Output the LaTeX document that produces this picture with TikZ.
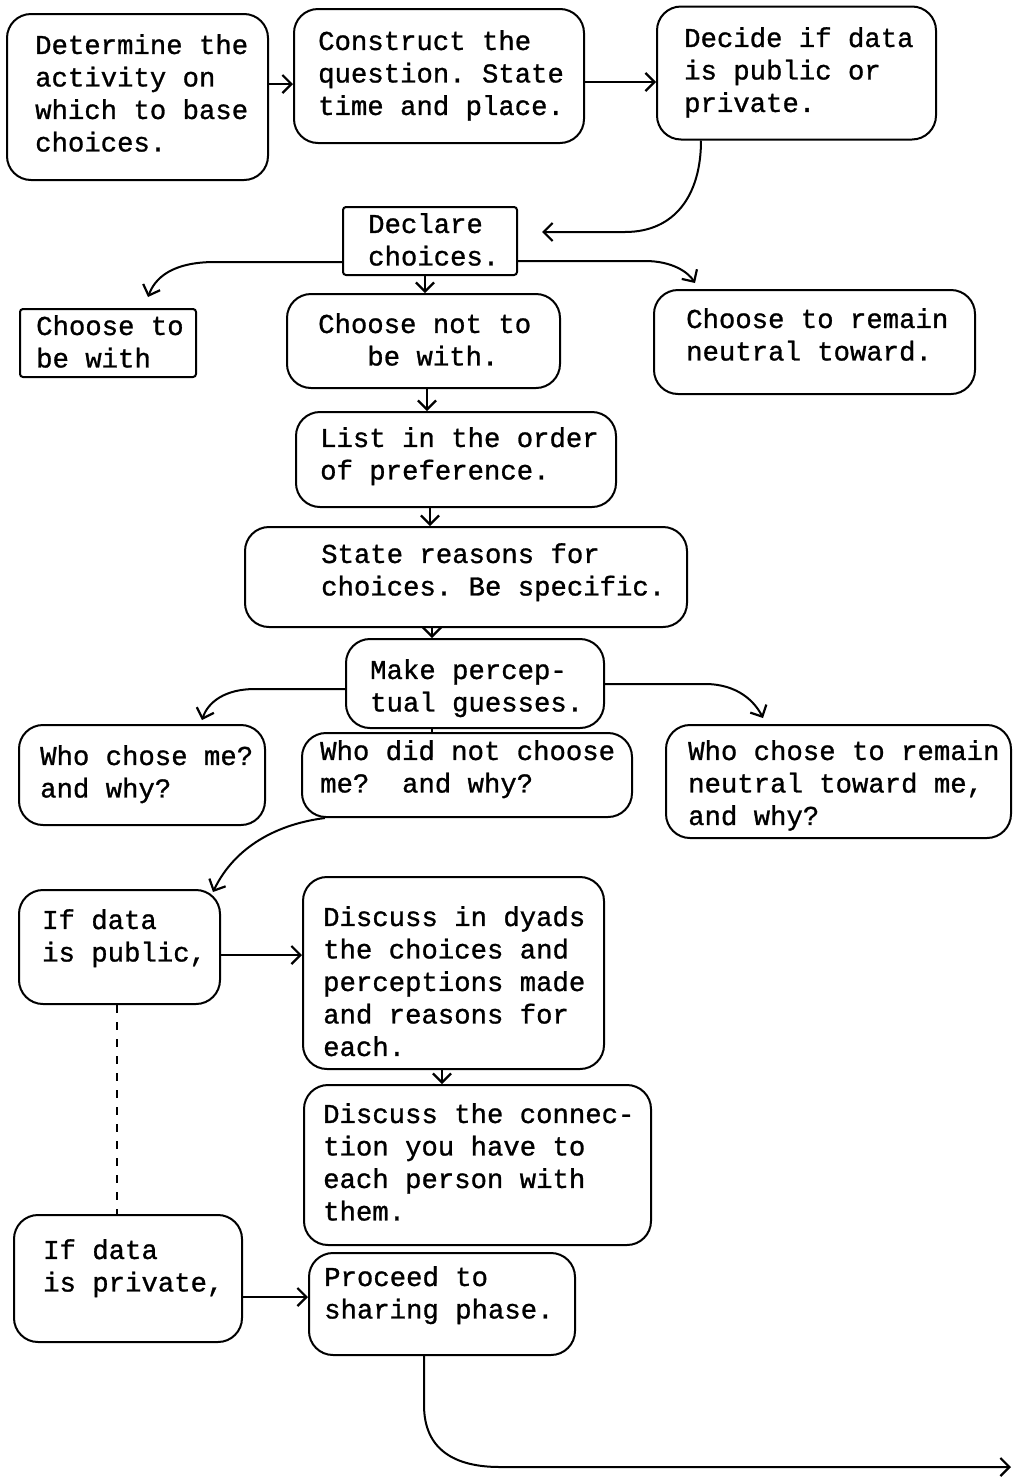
\documentclass[tikz,border=0pt]{standalone}
\usepackage{fontspec}
\newfontfamily\tw[FakeBold=1]{Liberation Mono}
\usetikzlibrary{arrows.meta,calc}
\begin{document}
\begin{tikzpicture}[x=1pt,y=-1pt,
  box/.style={draw,line width=2pt,rounded corners=24pt,inner sep=0pt},
  sbox/.style={draw,line width=2pt,rounded corners=3pt,inner sep=0pt},
  txt/.style={inner sep=0pt,anchor=north west,align=left,execute at begin node=\frenchspacing\strut,
    font=\tw\fontsize{27.3}{32.5}\selectfont},
  con/.style={line width=2pt},
  arr/.style={line width=2pt,-{Straight Barb[length=9pt,width=18pt,line width=2.2pt]}}]
\useasboundingbox (0,0) rectangle (1013,1481);
% boxes
\node[box,minimum width=261pt,minimum height=166pt] (b1) at (137.5,97) {};
\node[box,minimum width=290pt,minimum height=134pt] (b2) at (439,76) {};
\node[box,minimum width=279pt,minimum height=133pt] (b3) at (796.5,73) {};
\node[sbox,minimum width=174pt,minimum height=68pt] (b4) at (430,241) {};
\node[sbox,minimum width=176pt,minimum height=68pt] (b5) at (108,343) {};
\node[box,minimum width=273pt,minimum height=94pt] (b6) at (423.5,341) {};
\node[box,minimum width=321pt,minimum height=104pt] (b7) at (814.5,342) {};
\node[box,minimum width=320pt,minimum height=95pt] (b8) at (456,459.5) {};
\node[box,minimum width=442pt,minimum height=100pt] (b9) at (466,577) {};
\node[box,minimum width=258pt,minimum height=89pt] (b10) at (475,683.5) {};
\node[box,minimum width=246pt,minimum height=100pt] (b11) at (142,775) {};
\node[box,minimum width=330pt,minimum height=84pt] (b12) at (467,775) {};
\node[box,minimum width=345pt,minimum height=113pt] (b13) at (838.5,781.5) {};
\node[box,minimum width=201pt,minimum height=114pt] (b14) at (119.5,947) {};
\node[box,minimum width=301pt,minimum height=192pt] (b15) at (453.5,973) {};
\node[box,minimum width=347pt,minimum height=160pt] (b16) at (477.5,1165) {};
\node[box,minimum width=228pt,minimum height=127pt] (b17) at (128,1278.5) {};
\node[box,minimum width=266pt,minimum height=102pt] (b18) at (442,1304) {};
% texts
\node[txt] (t1) at (35,46-12) {Determine the\\activity on\\which to base\\choices.};
\node[txt] (t2) at (318,42-12) {Construct the\\question. State\\time and place.};
\node[txt] (t3) at (684,39-12) {Decide if data\\is public or\\private.};
\node[txt] (t4) at (368,225-12) {Declare\\choices.};
\node[txt] (t5) at (36,327-12) {Choose to\\be with};
\node[txt] (t6) at (318,325-12) {Choose not to\\\phantom{xxx}be with.};
\node[txt] (t7) at (686,320-12) {Choose to remain\\neutral toward.};
\node[txt] (t8) at (320,439-12) {List in the order\\of preference.};
\node[txt] (t9) at (321,555-12) {State reasons for\\choices. Be specific.};
\node[txt] (t10) at (370,671-12) {Make percep-\\tual guesses.};
\node[txt] (t11) at (40,757-12) {Who chose me?\\and why?};
\node[txt] (t12) at (320,752-12) {Who did not choose\\me?\ \ and why?};
\node[txt] (t13) at (688,752-12) {Who chose to remain\\neutral toward me,\\and why?};
\node[txt] (t14) at (42,921-12) {If data\\is public,};
\node[txt] (t15) at (323,918-12) {Discuss in dyads\\the choices and\\perceptions made\\and reasons for\\each.};
\node[txt] (t16) at (323,1115-12) {Discuss the connec-\\tion you have to\\each person with\\them.};
\node[txt] (t17) at (43,1251-12) {If data\\is private,};
\node[txt] (t18) at (324,1278-12) {Proceed to\\sharing phase.};
% connector ends
\coordinate (e1) at ($(b4.east)+(24,-9)$);
\coordinate (e2) at ($(b5.north)+(40,-11)$);
\coordinate (e3) at ($(b7.north)+(-119.5,-6)$);
\coordinate (e4) at ($(b11.north)+(60,-4)$);
\coordinate (e5) at ($(b13.north)+(-75.5,-6)$);
\coordinate (e6) at ($(b14.north)+(93.5,3)$);
\coordinate (e7) at (1011,1467);
% connectors
\draw[arr] (b1.east |- 0,84) -- (b2.west |- 0,84);
\draw[arr] (b2.east |- 0,82) -- (b3.west |- 0,82);
\draw[arr] (b3.south -| 701,0) .. controls (701,195) and (675,232) .. (625,232) -- (e1);
\draw[arr] (b4.west |- 0,262) -- (215,262) .. controls (172,262) and (155,278) .. (e2);
\draw[arr] (b4.south -| 425,0) -- (b6.north -| 425,0);
\draw[arr] (b4.east |- 0,261) -- (645,261) .. controls (672,261) and (688,272) .. (e3);
\draw[arr] (b6.south -| 427,0) -- (b8.north -| 427,0);
\draw[arr] (b8.south -| 430,0) -- (b9.north -| 430,0);
\draw[arr] (b9.south -| 432,0) -- (b10.north -| 432,0);
\draw[con] (b10.south -| 432,0) -- (b12.north -| 432,0);
\draw[arr] (b10.west |- 0,689) -- (255,689) .. controls (225,689) and (208,702) .. (e4);
\draw[arr] (b10.east |- 0,684) -- (705,684) .. controls (738,684) and (755,702) .. (e5);
\draw[arr] (b12.south -| 325,0) .. controls (270,825) and (232,852) .. (e6);
\draw[arr] (b14.east |- 0,955) -- (b15.west |- 0,955);
\draw[arr] (b15.south -| 442,0) -- (b16.north -| 442,0);
\draw[line width=1.4pt,dash pattern=on 8pt off 9pt] (b14.south -| 117,0) -- (b17.north -| 117,0);
\draw[arr] (b17.east |- 0,1297) -- (b18.west |- 0,1297);
\draw[arr] (b18.south -| 424,0) -- (424,1405) .. controls (424,1450) and (455,1467) .. (500,1467) -- (e7);
\end{tikzpicture}
\end{document}
